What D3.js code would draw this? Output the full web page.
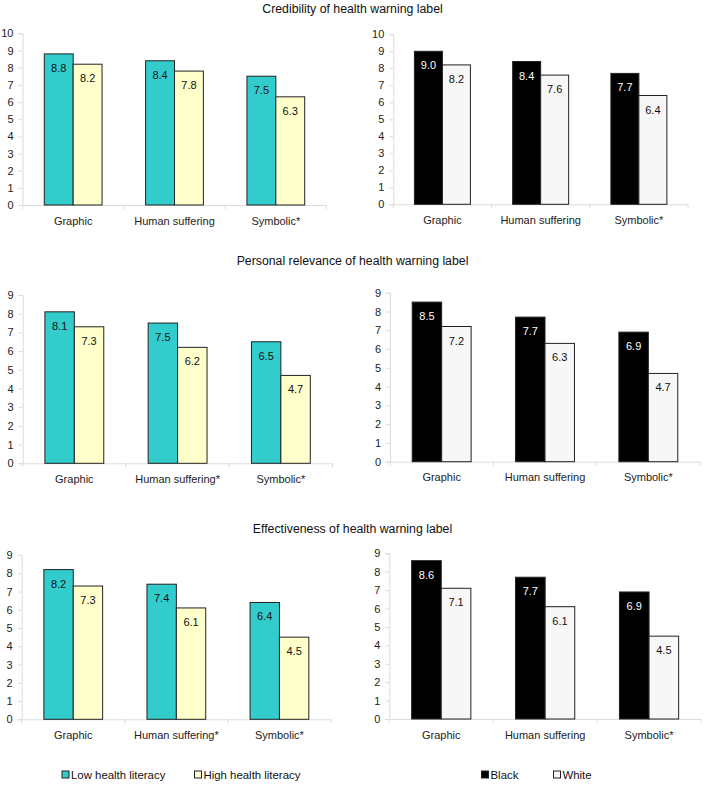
<!DOCTYPE html>
<html>
<head>
<meta charset="utf-8">
<script src="https://cdn.jsdelivr.net/npm/d3@7"></script>
<style>
html,body{margin:0;padding:0;background:#fff;}
svg{display:block;font-family:"Liberation Sans",Arial,sans-serif;}
</style>
</head>
<body>
<svg id="chart" width="705" height="785"></svg>
<script>
// ---- data ----
const titles = ["Credibility of health warning label", "Personal relevance of health warning label", "Effectiveness of health warning label"];
const catsCred = ["Graphic", "Human suffering", "Symbolic*"];
const catsLeftRest = ["Graphic", "Human suffering*", "Symbolic*"];
const catsRightRest = ["Graphic", "Human suffering", "Symbolic*"];

const credLow = [8.8, 8.4, 7.5], credHigh = [8.2, 7.8, 6.3];
const credBlack = [9.0, 8.4, 7.7], credWhite = [8.2, 7.6, 6.4];
const relLow = [8.1, 7.5, 6.5], relHigh = [7.3, 6.2, 4.7];
const relBlack = [8.5, 7.7, 6.9], relWhite = [7.2, 6.3, 4.7];
const effLow = [8.2, 7.4, 6.4], effHigh = [7.3, 6.1, 4.5];
const effBlack = [8.6, 7.7, 6.9], effWhite = [7.1, 6.1, 4.5];

const ticksCred = [0,1,2,3,4,5,6,7,8,9,10];
const ticksRest = [0,1,2,3,4,5,6,7,8,9];

const literacySeries = ["Low health literacy", "High health literacy"];
const raceSeries = ["Black", "White"];

// ---- styles ----
const colLit = ["#33CCCC", "#FFFFCC"];
const colRace = ["#000000", "#F7F7F7"];
const labelColLit = ["#111", "#111"];
const labelColRace = ["#fff", "#111"];

const svg = d3.select("#chart");

const panels = [
  {x0:22.5, x1:326.5, yTop:33.3, yBot:205, max:10, ticks:ticksCred, cats:catsCred, a:credLow, b:credHigh, col:colLit, lc:labelColLit},
  {x0:393.3, x1:688, yTop:34.3, yBot:204.3, max:10, ticks:ticksCred, cats:catsCred, a:credBlack, b:credWhite, col:colRace, lc:labelColRace},
  {x0:22.7, x1:332.5, yTop:295, yBot:463.3, max:9, ticks:ticksRest, cats:catsLeftRest, a:relLow, b:relHigh, col:colLit, lc:labelColLit},
  {x0:390, x1:700, yTop:292.7, yBot:461.7, max:9, ticks:ticksRest, cats:catsRightRest, a:relBlack, b:relWhite, col:colRace, lc:labelColRace},
  {x0:21.7, x1:331, yTop:555, yBot:719.3, max:9, ticks:ticksRest, cats:catsLeftRest, a:effLow, b:effHigh, col:colLit, lc:labelColLit},
  {x0:389.3, x1:701, yTop:553.3, yBot:719, max:9, ticks:ticksRest, cats:catsRightRest, a:effBlack, b:effWhite, col:colRace, lc:labelColRace}
];

const axisCol = "#dcdcdc";
const fs = "11px";

panels.forEach(p => {
  const x = d3.scaleBand().domain(p.cats).range([p.x0, p.x1]);
  const y = d3.scaleLinear().domain([0, p.max]).range([p.yBot, p.yTop]);
  const g = svg.append("g");

  // y axis
  const ya = g.append("g").attr("transform", `translate(${p.x0},0)`)
    .call(d3.axisLeft(y).tickValues(p.ticks).tickSize(4).tickPadding(5).tickFormat(d3.format("d")));
  ya.select(".domain").attr("stroke", axisCol);
  ya.selectAll(".tick line").attr("stroke", axisCol);
  ya.selectAll(".tick text").attr("fill", "#222").style("font-size", fs).style("font-family", "'Liberation Sans',Arial,sans-serif");

  // x axis
  const xa = g.append("g").attr("transform", `translate(0,${p.yBot})`)
    .call(d3.axisBottom(x).tickSize(0).tickPadding(12));
  xa.select(".domain").attr("stroke", axisCol);
  xa.selectAll(".tick text").attr("fill", "#222").style("font-size", fs).style("font-family", "'Liberation Sans',Arial,sans-serif");
  // band boundary ticks
  const bounds = [p.x0].concat(p.cats.map(c => x(c) + x.bandwidth()));
  g.selectAll("line.bt").data(bounds).enter().append("line")
    .attr("x1", d => d).attr("x2", d => d)
    .attr("y1", p.yBot).attr("y2", p.yBot + 4)
    .attr("stroke", axisCol);

  const bw = x.bandwidth() * 0.285;
  const series = [p.a, p.b];
  series.forEach((vals, si) => {
    const gs = g.append("g");
    gs.selectAll("rect").data(vals).enter().append("rect")
      .attr("x", (d, i) => x(p.cats[i]) + x.bandwidth()/2 - bw + si*bw)
      .attr("y", d => y(d))
      .attr("width", bw)
      .attr("height", d => y(0) - y(d))
      .attr("fill", p.col[si])
      .attr("stroke", "#222")
      .attr("stroke-width", 1);
    gs.selectAll("text").data(vals).enter().append("text")
      .attr("x", (d, i) => x(p.cats[i]) + x.bandwidth()/2 - bw + si*bw + bw/2)
      .attr("y", d => y(d) + 18)
      .attr("text-anchor", "middle")
      .attr("fill", p.lc[si])
      .style("font-size", fs)
      .text(d => d3.format(".1f")(d));
  });
});

// titles
const titleY = [13, 265, 533];
svg.selectAll("text.title").data(titles).enter().append("text")
  .attr("class", "title")
  .attr("x", 352.5)
  .attr("y", (d, i) => titleY[i])
  .attr("text-anchor", "middle")
  .attr("fill", "#111")
  .style("font-size", "12.3px")
  .text(d => d);

// legends
function legend(items, cols, xs, ly) {
  const lg = svg.append("g");
  items.forEach((t, i) => {
    lg.append("rect").attr("x", xs[i]).attr("y", ly - 4).attr("width", 7).attr("height", 7)
      .attr("fill", cols[i]).attr("stroke", "#222").attr("stroke-width", 1);
    lg.append("text").attr("x", xs[i] + 9).attr("y", ly + 4)
      .attr("fill", "#111").style("font-size", "11.4px").text(t);
  });
}
legend(literacySeries, colLit, [62, 194.5], 775);
legend(raceSeries, colRace, [481.5, 553.5], 775);
</script>
</body>
</html>
